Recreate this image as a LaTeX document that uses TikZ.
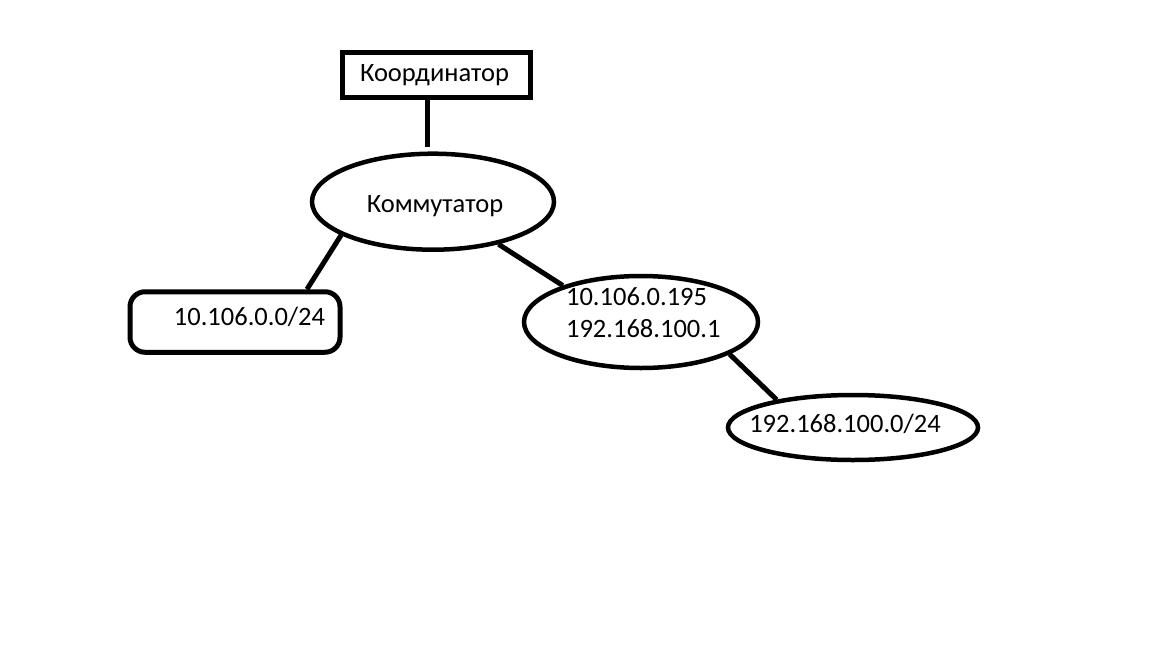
\documentclass[tikz,border=0pt]{standalone}
\usepackage{fontspec}
\setmainfont{Carlito}
\usetikzlibrary{calc,shapes.geometric}
\begin{document}
\begin{tikzpicture}[x=1pt,y=-1pt,
  lbl/.style={font=\fontsize{26.5}{32}\selectfont, inner sep=0pt, text height=17pt, text depth=0pt},
  lbl2/.style={font=\fontsize{26.5}{32}\selectfont, inner sep=0pt, align=left},
  box/.style={draw, line width=5pt, inner sep=0pt},
  oval/.style={draw, ellipse, line width=4.5pt, inner sep=0pt},
  wire/.style={line width=5pt}]
\useasboundingbox[fill=white] (0,0) rectangle (1152,648);
\node[box, minimum width=188, minimum height=45,
  label={[lbl,xshift=-2pt,yshift=2pt]center:Координатор}] (c) at (436.5,75) {};
\node[oval, minimum width=242, minimum height=96,
  label={[lbl,xshift=2pt,yshift=-2pt]center:Коммутатор}] (k) at (433,201.7) {};
\node[box, rounded corners=15pt, minimum width=210, minimum height=60.5,
  label={[lbl,xshift=14.5pt,yshift=5.3pt]center:10.106.0.0/24}] (n1) at (235,322) {};
\node[oval, minimum width=234, minimum height=92,
  label={[lbl2,xshift=2.3pt,yshift=9.5pt]center:{10.106.0.195\\192.168.100.1}}] (e2) at (641,322) {};
\node[oval, minimum width=250, minimum height=65,
  label={[lbl,xshift=-8pt,yshift=3.3pt]center:192.168.100.0/24}] (e3) at (853,427.5) {};
\draw[wire] ($(c.south)+(-9.5,0)$) -- ($(k.north)+(-6,-4)$);
\draw[wire] (k.200.6) -- ($(n1.north)+(72,0)$);
\draw[wire] (k.-33.5) -- (e2.155.4);
\draw[wire] (e2.-20.3) -- (e3.160.6);
\end{tikzpicture}
\end{document}
